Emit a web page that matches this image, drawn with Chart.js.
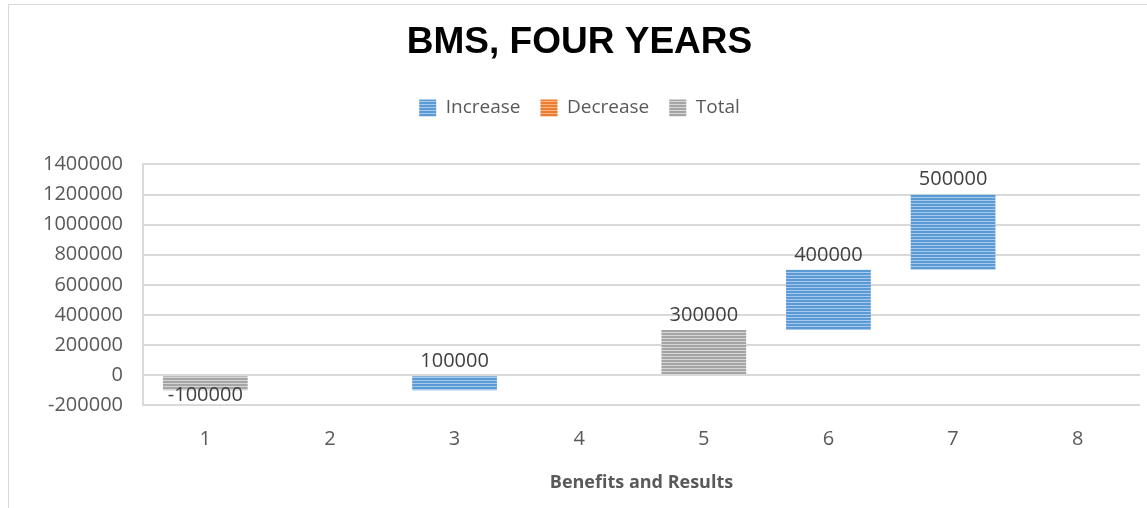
<!DOCTYPE html>
<html>
<head>
<meta charset="utf-8">
<script src="https://cdn.jsdelivr.net/npm/chart.js@4.4.0/dist/chart.umd.min.js"></script>
<style>
    body { margin: 0; background: #fff; }
    #wrap {
        position: absolute; left: 8px; top: 4px;
        width: 1139px; height: 504px;
        border-top: 1px solid #d9d9d9; border-left: 1px solid #d9d9d9;
    }
</style>
</head>
<body>
<div id="wrap"><canvas id="bmsChart"></canvas></div>
<script>
const categories = ['1', '2', '3', '4', '5', '6', '7', '8'];
// waterfall: increases start from the running total before them
const increaseBase = [null, null, -100000, null, null, 300000, 700000, null];
const increaseValues = [null, null, 100000, null, null, 400000, 500000, null];
const decreaseBase = [null, null, null, null, null, null, null, null];
const decreaseValues = [null, null, null, null, null, null, null, null];
const totalValues = [-100000, null, null, null, 300000, null, null, null];
const yTicks = [-200000, 0, 200000, 400000, 600000, 800000, 1000000, 1200000, 1400000];

function stripes(dark, light) {
    const c = document.createElement('canvas');
    c.width = 4; c.height = 3;
    const g = c.getContext('2d');
    g.fillStyle = light;
    g.fillRect(0, 0, 4, 3);
    g.fillStyle = dark;
    g.fillRect(0, 1, 4, 2);
    return g.createPattern(c, 'repeat');
}

const bluePat = stripes('#5b9bd5', '#a9c9ea');
const orangePat = stripes('#ed7d31', '#f6b48a');
const grayPat = stripes('#a5a5a5', '#d6d6d6');

function floating(base, vals) {
    return vals.map((v, i) => v === null ? null : [base[i], base[i] + v]);
}

const valueLabels = {
    id: 'valueLabels',
    afterDatasetsDraw(chart) {
        const ctx = chart.ctx;
        ctx.save();
        ctx.font = '20px "Open Sans"';
        ctx.fillStyle = '#404040';
        ctx.textAlign = 'center';
        ctx.textBaseline = 'middle';
        const sources = [increaseValues, decreaseValues, totalValues];
        chart.data.datasets.forEach((ds, di) => {
            const meta = chart.getDatasetMeta(di);
            meta.data.forEach((bar, i) => {
                const v = sources[di][i];
                if (v === null) return;
                const top = Math.min(bar.y, bar.base);
                const bottom = Math.max(bar.y, bar.base);
                const y = v < 0 ? bottom + 5 : top - 15;
                ctx.fillText(String(v), bar.x, y);
            });
        });
        ctx.restore();
    }
};

// extra room between legend and plot
const legendGap = {
    id: 'legendGap',
    beforeInit(chart) {
        const fit = chart.legend.fit;
        chart.legend.fit = function () {
            fit.bind(chart.legend)();
            this.height += 37;
        };
    }
};

const ctx = document.getElementById('bmsChart').getContext('2d');
new Chart(ctx, {
    type: 'bar',
    data: {
        labels: categories,
        datasets: [
            { label: 'Increase', data: floating(increaseBase, increaseValues), backgroundColor: bluePat, borderWidth: 0 },
            { label: 'Decrease', data: floating(decreaseBase, decreaseValues), backgroundColor: orangePat, borderWidth: 0 },
            { label: 'Total', data: floating(totalValues.map(() => 0), totalValues), backgroundColor: grayPat, borderWidth: 0 }
        ]
    },
    options: {
        responsive: true,
        maintainAspectRatio: false,
        animation: false,
        barPercentage: 0.68,
        categoryPercentage: 1,
        layout: { padding: { left: 10, right: 8, top: 0, bottom: 15 } },
        plugins: {
            title: {
                display: true,
                text: 'BMS, FOUR YEARS',
                color: '#000',
                font: { family: '"Liberation Sans", Arial', size: 37, weight: 'bold' },
                padding: { top: 16, bottom: 13 }
            },
            legend: {
                labels: {
                    color: '#595959',
                    font: { family: '"Open Sans"', size: 19 },
                    boxWidth: 17, boxHeight: 17,
                    padding: 20
                }
            },
            tooltip: { enabled: false }
        },
        scales: {
            x: {
                stacked: true,
                grid: { display: false },
                border: { display: false },
                ticks: { color: '#595959', font: { family: '"Open Sans"', size: 20 }, padding: 14 },
                title: {
                    display: true,
                    text: 'Benefits and Results',
                    color: '#595959',
                    font: { family: '"Open Sans"', size: 18, weight: 'bold' },
                    padding: { top: 7, bottom: 0 }
                }
            },
            y: {
                min: -200000,
                max: 1400000,
                afterBuildTicks: axis => { axis.ticks = yTicks.map(v => ({ value: v })); },
                afterFit: axis => { axis.width = 124; },
                grid: { color: '#d9d9d9', lineWidth: 2, drawTicks: false },
                border: { display: true, color: '#d9d9d9', width: 2 },
                ticks: {
                    color: '#595959',
                    font: { family: '"Open Sans"', size: 20 },
                    padding: 20,
                    callback: v => String(v)
                }
            }
        }
    },
    plugins: [valueLabels, legendGap]
});
</script>
</body>
</html>
